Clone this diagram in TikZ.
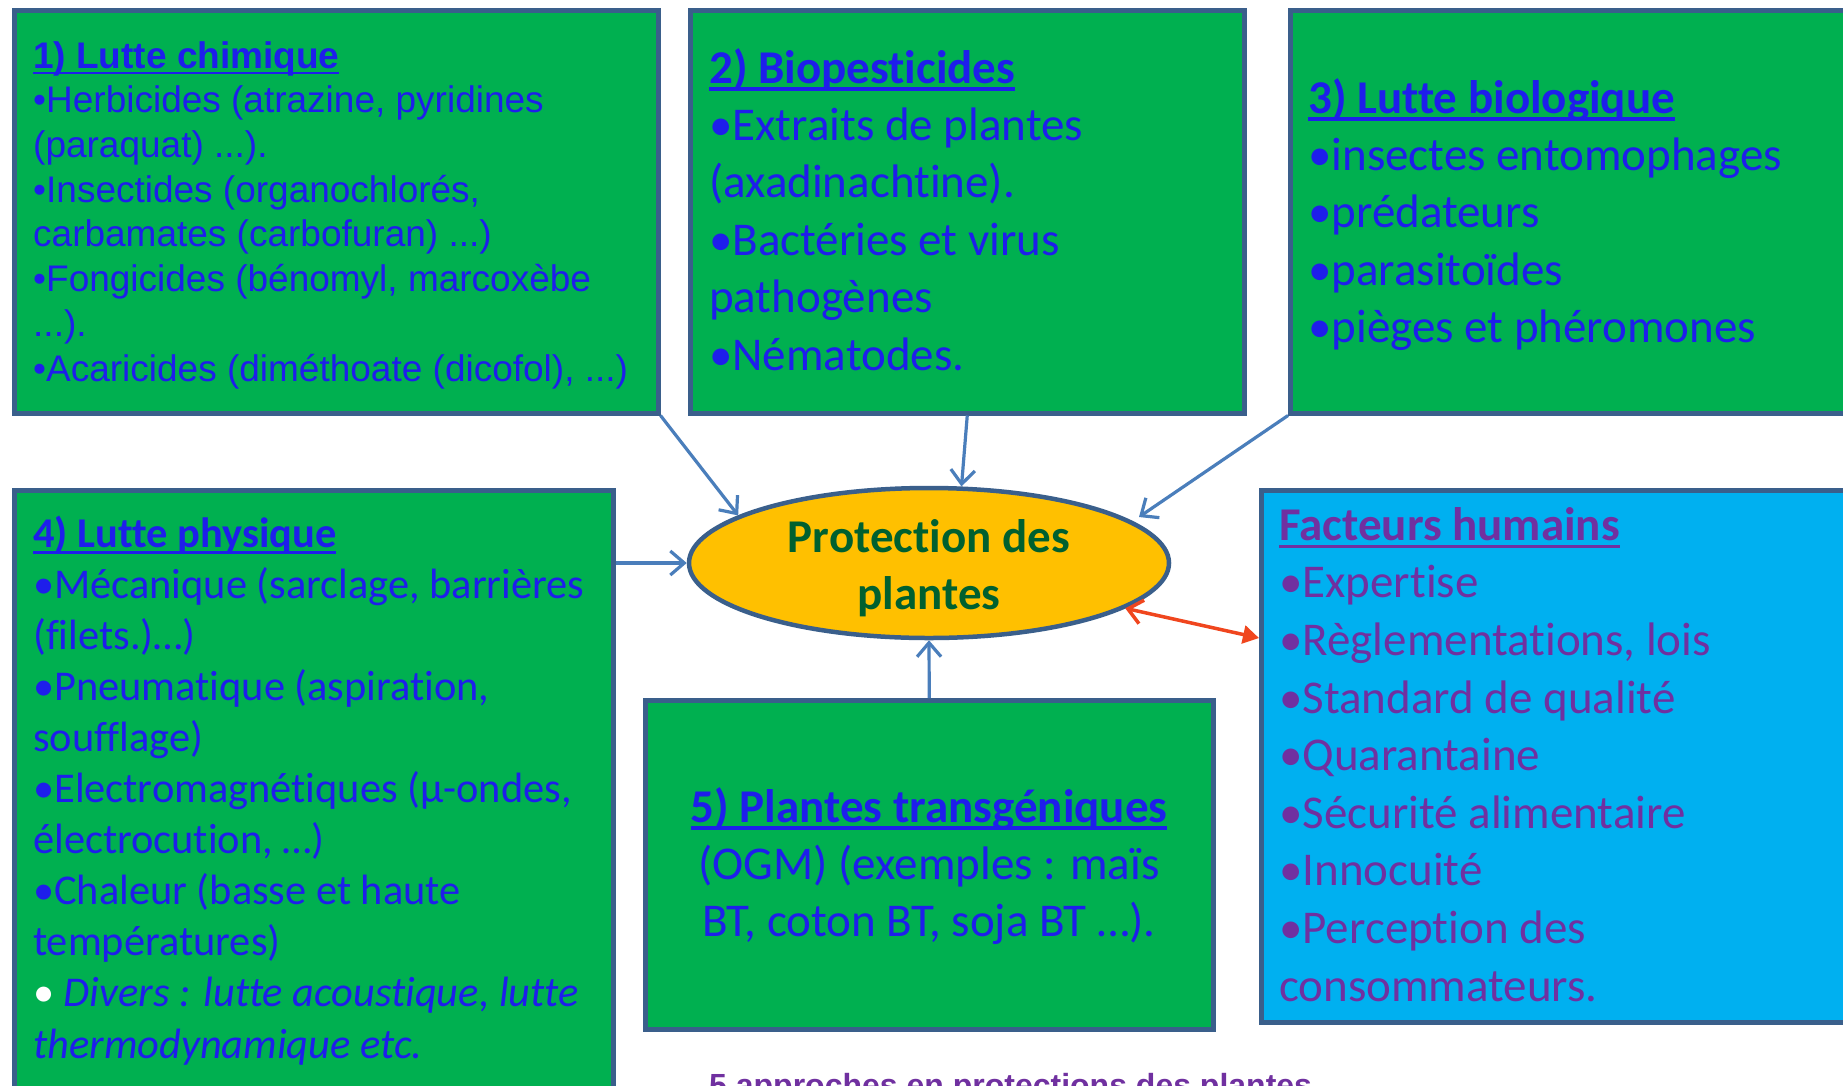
\documentclass[tikz,border=0pt]{standalone}
\usepackage{fontspec}
\setmainfont{Carlito}[Ligatures={NoCommon}]
\newfontfamily\arialf{Liberation Sans}
\usetikzlibrary{shapes.geometric,arrows.meta}
\definecolor{boxgreen}{HTML}{00B050}
\definecolor{boxcyan}{HTML}{00B0F0}
\definecolor{edgec}{HTML}{3A5F8B}
\definecolor{txtblue}{HTML}{1E1EEB}
\definecolor{txtpurple}{HTML}{7030A0}
\definecolor{ellfill}{HTML}{FFC000}
\definecolor{elltext}{HTML}{00602F}
\definecolor{arrblue}{HTML}{4A7EBB}
\definecolor{arrred}{HTML}{F0461E}
\newcommand\uln[1]{\setbox0\hbox{#1}\rlap{\rule[-0.16em]{\wd0}{0.065em}}\box0}
\tikzset{
  panel/.style={draw=edgec, line width=4.5pt, fill=boxgreen, anchor=north west, inner sep=0pt},
  cyanpanel/.style={panel, fill=boxcyan},
  txt/.style={anchor=base west, inner sep=0pt, align=left},
  arr/.style={draw=arrblue, line width=3.2pt, -{Straight Barb[length=14pt,width=24pt,line width=3.2pt]}},
  redarr/.style={draw=arrred, line width=3.5pt, {Straight Barb[length=14pt,width=24pt,line width=3.5pt]}-{Triangle[length=16pt,width=18pt]}}
}
\begin{document}
\begin{tikzpicture}[x=1pt,y=-1pt]
\path[use as bounding box] (0,0) rectangle (1843,1085);
\clip (0,0) rectangle (1843,1085);
\fill[white] (0,0) rectangle (1843,1085);

% boxes
\node[panel, minimum width=644pt, minimum height=403pt] (b1) at (12,8) {};
\node[panel, minimum width=554pt, minimum height=403pt] (b2) at (688,8) {};
\node[panel, minimum width=580pt, minimum height=403pt] (b3) at (1288,8) {};
\node[panel, minimum width=599pt, minimum height=620pt] (b4) at (12,488) {};
\node[panel, minimum width=568pt, minimum height=329pt] (b5) at (643,698) {};
\node[cyanpanel, minimum width=600pt, minimum height=532pt] (hum) at (1259,488) {};

% central ellipse
\node[ellipse, draw=edgec, line width=4.5pt, fill=ellfill, minimum width=480pt, minimum height=150pt,
      inner sep=0pt] (ell) at (929,563) {};
\node[inner sep=0pt, align=center, font=\bfseries\fontsize{47}{57.6}\selectfont, text=elltext]
      (ellt) at (929,568) {Protection des\\plantes};

% texts (anchored at the baseline of their last line)
\node[txt, text=txtblue, font=\arialf\fontsize{37}{44.7}\selectfont] (t1) at (33,381)
 {\uln{\bfseries 1) Lutte chimique}\\
  •Herbicides (atrazine, pyridines\\
  (paraquat) ...).\\
  •Insectides (organochlorés,\\
  carbamates (carbofuran) ...)\\
  •Fongicides (bénomyl, marcoxèbe\\
  ...).\\
  •Acaricides (diméthoate (dicofol), ...)};

\node[txt, text=txtblue, font=\fontsize{47}{57.4}\selectfont] (t2) at (709,370)
 {\uln{\bfseries 2) Biopesticides}\\
  •Extraits de plantes\\
  (axadinachtine).\\
  •Bactéries et virus\\
  pathogènes\\
  •Nématodes.};

\node[txt, text=txtblue, font=\fontsize{47}{57.4}\selectfont] (t3) at (1308,342.6)
 {\uln{\bfseries 3) Lutte biologique}\\
  •insectes entomophages\\
  •prédateurs\\
  •parasitoïdes\\
  •pièges et phéromones};

\node[txt, text=txtblue, font=\fontsize{42.4}{51.1}\selectfont] (t4) at (33,1058)
 {\uln{\bfseries 4) Lutte physique}\\
  •Mécanique (sarclage, barrières\\
  (filets.)…)\\
  •Pneumatique (aspiration,\\
  soufflage)\\
  •Electromagnétiques (µ-ondes,\\
  électrocution, …)\\
  •Chaleur (basse et haute\\
  températures)\\
  {\color{white}•} \itshape Divers : lutte acoustique, lutte\\
  \itshape thermodynamique etc.};

\node[anchor=base, inner sep=0pt, align=center, text=txtblue, font=\fontsize{47}{57.2}\selectfont] (t5) at (929,936.4)
 {\uln{\bfseries 5) Plantes transgéniques}\\
  (OGM) (exemples : maïs\\
  BT, coton BT, soja BT …).};

\node[txt, text=txtpurple, font=\fontsize{47}{57.6}\selectfont] (th) at (1279,1001)
 {\uln{\bfseries Facteurs humains}\\
  •Expertise\\
  •Règlementations, lois\\
  •Standard de qualité\\
  •Quarantaine\\
  •Sécurité alimentaire\\
  •Innocuité\\
  •Perception des\\
  consommateurs.};

\node[anchor=base west, inner sep=0pt, text=txtpurple, font=\arialf\bfseries\fontsize{32}{38}\selectfont]
  (cap) at (709,1096) {5 approches en protections des plantes};

% connectors
\coordinate (e3) at ([xshift=210pt,yshift=46pt]ell.center);
\draw[arr] (b1.south east) -- (ell.166);
\draw[arr] (b2.south) -- (ell.67);
\draw[arr] (b3.south west) -- (e3);
\draw[arr] (b4.east |- ell.west) -- (ell.west);
\draw[arr] (b5.north) -- (ell.south);
\coordinate (humin) at ([yshift=-150pt]hum.north west);
\draw[redarr] (ell.-13) -- (humin);
\end{tikzpicture}
\end{document}
